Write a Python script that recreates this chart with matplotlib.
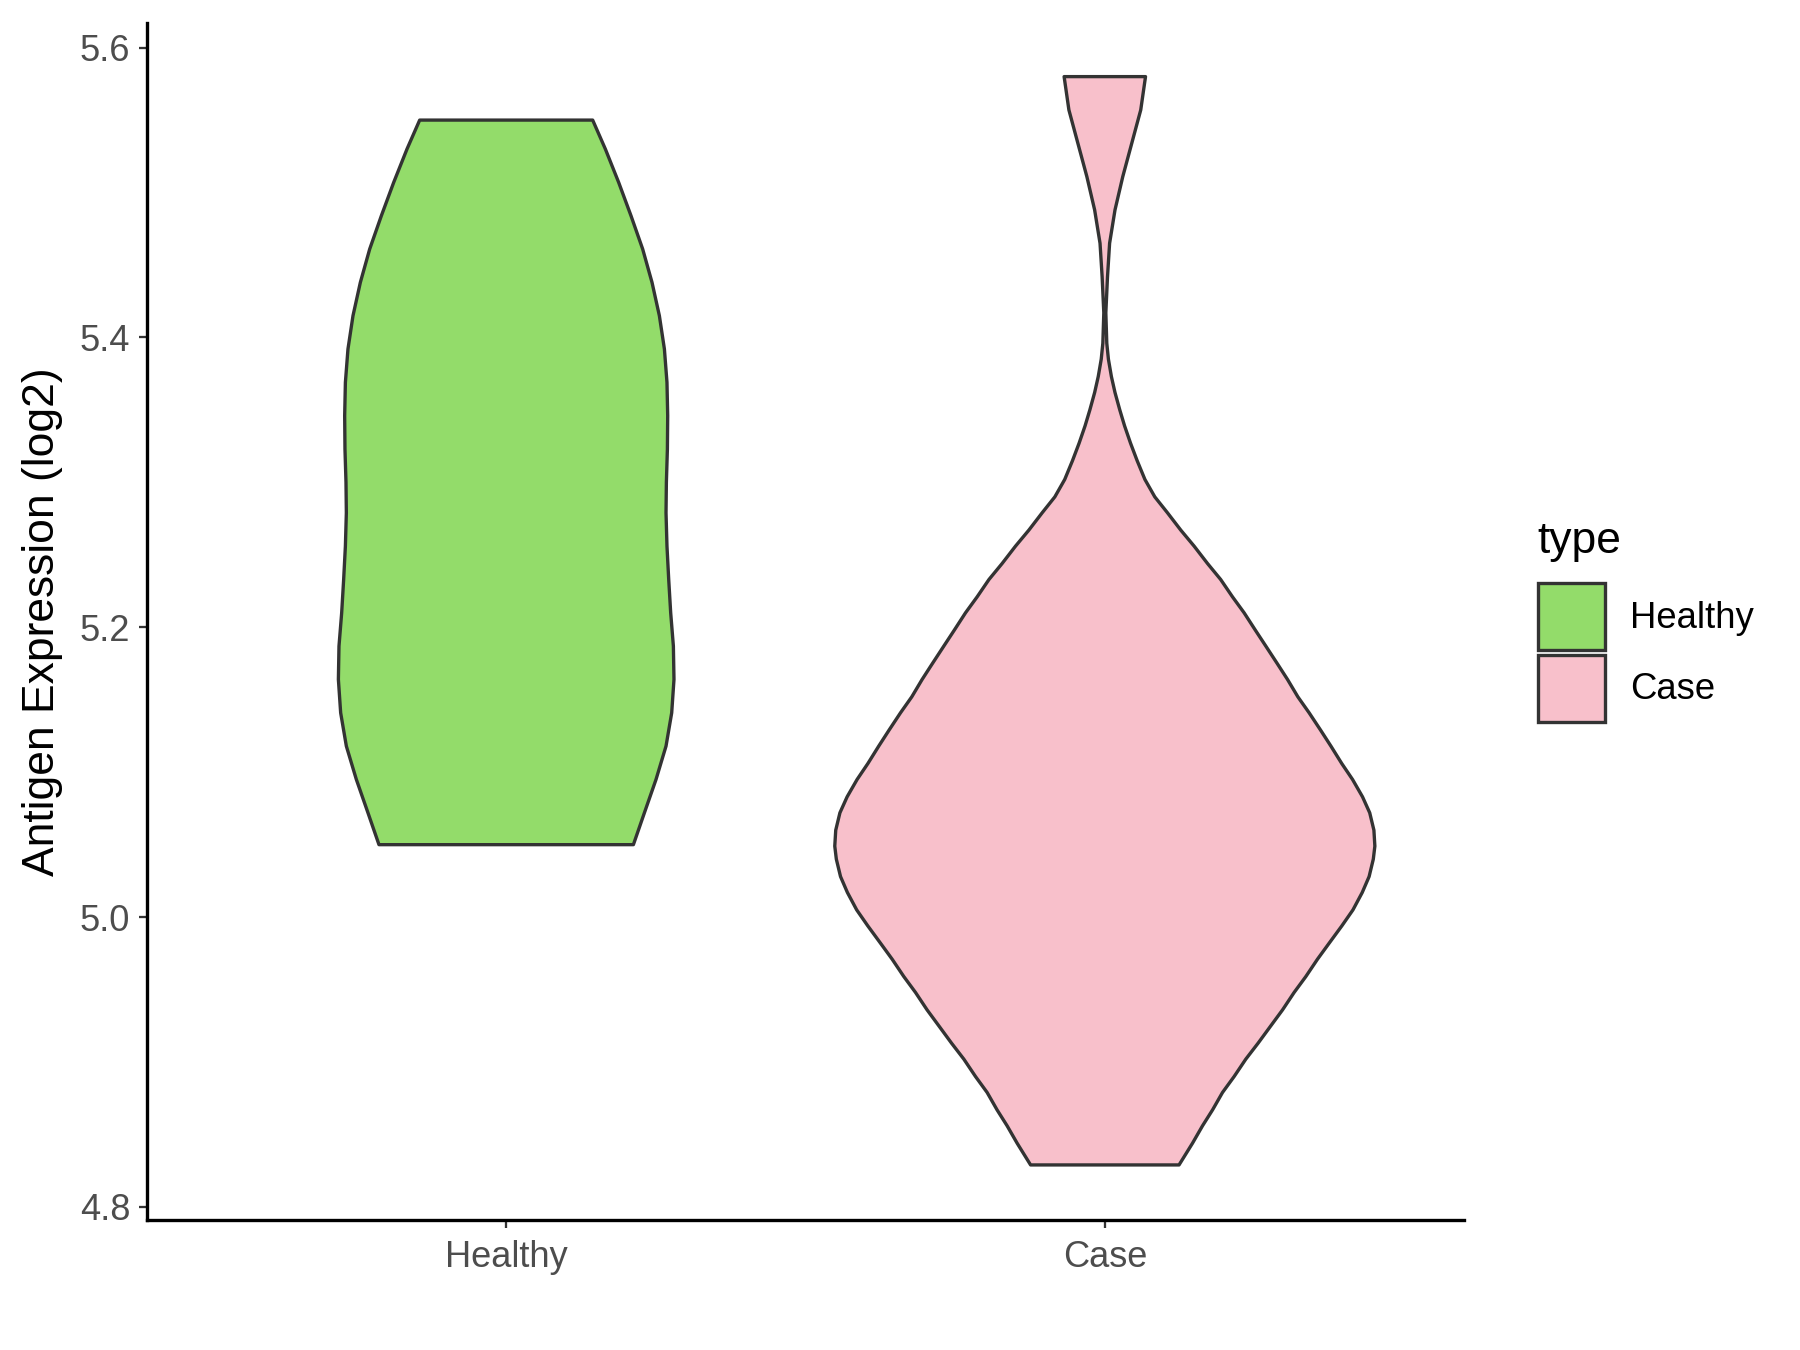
import numpy as np
import matplotlib
matplotlib.use('Agg')
import matplotlib.pyplot as plt
from matplotlib.patches import Patch

plt.rcParams['font.family'] = ['Liberation Sans', 'DejaVu Sans']

# violin outlines: y level and half width (in category units)
groups = ['Healthy', 'Case']
colors = ['#93DC6A', '#F8C0CB']

healthy_y = np.array([5.050, 5.072, 5.095, 5.118, 5.141, 5.164, 5.187, 5.210, 5.233, 5.256,
                      5.279, 5.300, 5.323, 5.346, 5.369, 5.392, 5.415, 5.438, 5.461, 5.484,
                      5.507, 5.530, 5.550])
healthy_w = np.array([0.2125, 0.2309, 0.2503, 0.2670, 0.2765, 0.2803, 0.2793, 0.2748, 0.2715, 0.2686,
                      0.2670, 0.2676, 0.2693, 0.2698, 0.2686, 0.2643, 0.2559, 0.2436, 0.2280, 0.2085,
                      0.1879, 0.1657, 0.1445])

case_y = np.array([4.829, 4.844, 4.856, 4.867, 4.879, 4.890, 4.902, 4.913, 4.925, 4.936,
                   4.948, 4.959, 4.971, 4.982, 4.994, 5.005, 5.017, 5.028, 5.040, 5.049,
                   5.060, 5.072, 5.083, 5.095, 5.106, 5.118, 5.129, 5.141, 5.152, 5.164,
                   5.175, 5.187, 5.198, 5.210, 5.221, 5.233, 5.244, 5.256, 5.267, 5.279,
                   5.290, 5.302, 5.315, 5.327, 5.339, 5.350, 5.362, 5.373, 5.385, 5.396,
                   5.417, 5.442, 5.465, 5.488, 5.511, 5.534, 5.557, 5.580])
case_w = np.array([0.124, 0.1465, 0.1632, 0.180, 0.1966, 0.216, 0.2355, 0.256, 0.2773, 0.2969,
                   0.3162, 0.3358, 0.3553, 0.3747, 0.396, 0.4145, 0.430, 0.4415, 0.4485, 0.4511,
                   0.4495, 0.4425, 0.4305, 0.4138, 0.3958, 0.3777, 0.3605, 0.3413, 0.3225, 0.3052,
                   0.2880, 0.2690, 0.2515, 0.2327, 0.2133, 0.1935, 0.1716, 0.1492, 0.1270, 0.1047,
                   0.0835, 0.067, 0.054, 0.043, 0.033, 0.025, 0.017, 0.011, 0.006, 0.0033,
                   0.0017, 0.0045, 0.008, 0.017, 0.030, 0.045, 0.060, 0.068])

yticks = [4.8, 5.0, 5.2, 5.4, 5.6]

fig = plt.figure(figsize=(12, 9), dpi=150)
ax = fig.add_axes([147/1800, 1 - 1220/1350, (1464-147)/1800, (1220-23)/1350])

for i, (yy, ww) in enumerate([(healthy_y, healthy_w), (case_y, case_w)]):
    pos = i + 1
    xs = np.concatenate([pos - ww, (pos + ww)[::-1]])
    ys = np.concatenate([yy, yy[::-1]])
    ax.fill(xs, ys, facecolor=colors[i], edgecolor='#333333', lw=1.6, joinstyle='round')

ax.set_xlim(0.4, 2.6)
ax.set_ylim(4.791, 5.617)
ax.set_xticks([1, 2])
ax.set_xticklabels(groups)
ax.set_yticks(yticks)
ax.set_yticklabels(['%.1f' % v for v in yticks])
ax.tick_params(colors='#333333', labelcolor='#4D4D4D', labelsize=17.4, length=4, width=1.1, pad=4)
ax.tick_params(axis='x', pad=5.6)
for s in ['top', 'right']:
    ax.spines[s].set_visible(False)
for s in ['left', 'bottom']:
    ax.spines[s].set_linewidth(1.6)
    ax.spines[s].set_color('black')
ax.set_ylabel('Antigen Expression (log2)', fontsize=21.3, labelpad=8)

handles = [Patch(facecolor=c, edgecolor='#333333', lw=1.6) for c in colors]
leg = ax.legend(handles, groups, title='type', loc='center left', bbox_to_anchor=(1.056, 0.5),
                frameon=False, fontsize=17.5, title_fontsize=21.3, handlelength=1.84,
                handleheight=2.45, labelspacing=0.12, handletextpad=0.68, borderpad=0,
                borderaxespad=0, alignment='left')
leg._legend_box.sep = 10

fig.savefig('out.png', dpi=150)
